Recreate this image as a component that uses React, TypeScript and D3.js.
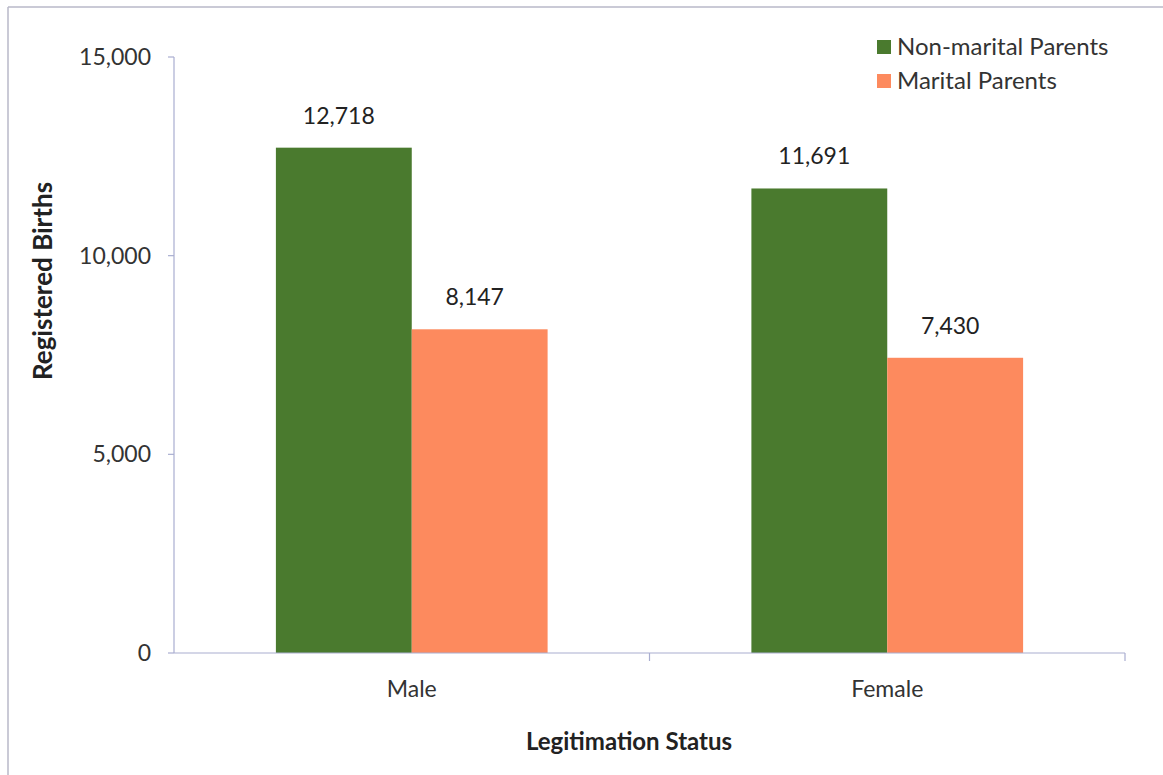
import React from "react";
import * as d3 from "d3";

const categories = ["Male", "Female"];
const seriesNames = ["Non-marital Parents", "Marital Parents"];
const nonMarital = [12718, 11691];
const marital = [8147, 7430];
const yTicks = [0, 5000, 10000, 15000];
const colors = ["#4a7a2e", "#fd8a5e"];

export default function App() {
  const W = 1163, H = 775;
  const left = 174, right = 1125, top = 57, bottom = 653;
  const x = d3.scaleBand<string>().domain(categories).range([left, right]);
  const y = d3.scaleLinear().domain([0, 15000]).range([bottom, top]);
  const inner = d3.scaleBand<string>().domain(seriesNames).range([0, x.bandwidth()]).paddingInner(0).paddingOuter(0.75);
  const series = [nonMarital, marital];
  const fmt = d3.format(",");
  const font = "Lato, 'Open Sans', sans-serif";
  const axisColor = "#a9aed0";
  return (
    <svg width={W} height={H} style={{ position: "absolute", left: 0, top: 0 }} fontFamily={font}>
      <rect x={0} y={0} width={W} height={H} fill="#fff" />
      <line x1={8} y1={7} x2={1163} y2={7} stroke="#b8b8c8" strokeWidth={1.5} />
      <line x1={8} y1={7} x2={8} y2={775} stroke="#b8b8c8" strokeWidth={1.5} />
      {/* y axis */}
      <line x1={left} y1={top} x2={left} y2={bottom} stroke={axisColor} strokeWidth={1.2} />
      {yTicks.map((t) => (
        <g key={t}>
          <line x1={left - 6} x2={left} y1={y(t)} y2={y(t)} stroke={axisColor} strokeWidth={1.2} />
          <text x={151} y={y(t)} dy="0.35em" textAnchor="end" fontSize={23} fill="#333">{fmt(t)}</text>
        </g>
      ))}
      {/* bars */}
      {categories.map((c, i) => (
        <g key={c}>
          {seriesNames.map((s, j) => {
            const bx = (x(c) as number) + (inner(s) as number);
            const v = series[j][i];
            return (
              <g key={s}>
                <rect x={bx} y={y(v)} width={inner.bandwidth()} height={bottom - y(v)} fill={colors[j]} />
                <text x={bx + inner.bandwidth() / 2 - 5} y={y(v) - 24} textAnchor="middle" fontSize={23} fill="#222">{fmt(v)}</text>
              </g>
            );
          })}
        </g>
      ))}
      {/* x axis */}
      <line x1={left} y1={bottom} x2={right} y2={bottom} stroke={axisColor} strokeWidth={1.2} />
      {[...categories.map((c) => x(c) as number), right].map((tx, i) => (
        i === 0 ? null : <line key={i} x1={tx} x2={tx} y1={bottom} y2={bottom + 8} stroke={axisColor} strokeWidth={1.2} />
      ))}
      {categories.map((c) => (
        <text key={c} x={(x(c) as number) + x.bandwidth() / 2} y={697} textAnchor="middle" fontSize={23} fill="#333">{c}</text>
      ))}
      <text x={629} y={750} textAnchor="middle" fontSize={24} fontWeight="bold" fill="#222">Legitimation Status</text>
      <text transform="translate(52,281) rotate(-90)" textAnchor="middle" fontSize={26} fontWeight="bold" fill="#222">Registered Births</text>
      {/* legend */}
      {seriesNames.map((s, j) => (
        <g key={s}>
          <rect x={877} y={40 + j * 34} width={14} height={14} fill={colors[j]} />
          <text x={897} y={47 + j * 34} dy="0.35em" fontSize={24} fill="#333">{s}</text>
        </g>
      ))}
    </svg>
  );
}
